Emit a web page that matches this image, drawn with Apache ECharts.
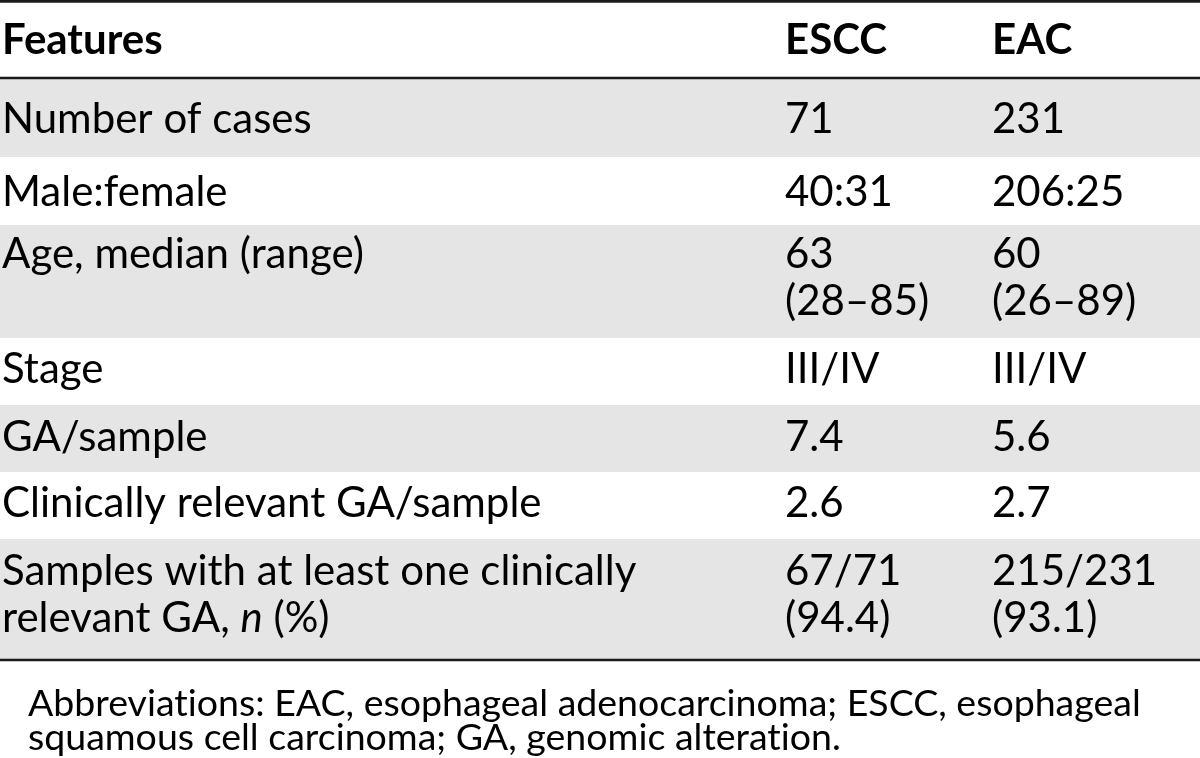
<!DOCTYPE html>
<html>
<head>
<meta charset="utf-8">
<script src="https://cdn.jsdelivr.net/npm/echarts@6/dist/echarts.min.js"></script>
<style>
  html, body { margin: 0; padding: 0; background: #ffffff; }
  #chart { width: 1200px; height: 758px; }
</style>
</head>
<body>
<div id="chart"></div>
<script>
// ---- Table content ----
const headers = ['Features', 'ESCC', 'EAC'];
const features = [
  'Number of cases',
  'Male:female',
  'Age, median (range)',
  'Stage',
  'GA/sample',
  'Clinically relevant GA/sample',
  'Samples with at least one clinically\nrelevant GA, {i|n} (%)'
];
const esccValues = ['71', '40:31', '63\n(28\u201385)', 'III/IV', '7.4', '2.6', '67/71\n(94.4)'];
const eacValues = ['231', '206:25', '60\n(26\u201389)', 'III/IV', '5.6', '2.7', '215/231\n(93.1)'];
// \u200C (zero-width non-joiner) only prevents the font's "ti" ligature
const footnote = 'Abbreviat\u200Cions: EAC, esophageal adenocarcinoma; ESCC, esophageal\nsquamous cell carcinoma; GA, genomic alterat\u200Cion.';

// ---- Layout (page units) ----
const rowEdges = [2, 79, 157, 225, 338, 405, 472, 539, 660];
const firstLineY = [40, 119, 192, 254, 369, 437, 503, 571];
const colX = [2, 785, 992];
const ruleY = [1.4, 78, 660];
const ruleW = [2.8, 2.6, 2.6];
const FONT = 'Lato, "Open Sans", sans-serif';
const BODY_SIZE = 42, BODY_LH = 47;
const NOTE_SIZE = 37.5, NOTE_LH = 34;
const NOTE_X = 28, NOTE_Y = 704;

const rows = [headers].concat(features.map((f, i) => [f, esccValues[i], eacValues[i]]));

function renderRow(params, api) {
  const i = api.value(0);
  const tl = api.coord([0, rowEdges[i]]);
  const br = api.coord([1200, rowEdges[i + 1]]);
  const children = [];
  if (i > 0 && (i - 1) % 2 === 0) {
    children.push({
      type: 'rect',
      shape: { x: tl[0], y: tl[1], width: br[0] - tl[0], height: br[1] - tl[1] },
      style: { fill: '#e5e5e5' }
    });
  }
  const ty = api.coord([0, firstLineY[i]])[1] - BODY_LH / 2;
  rows[i].forEach((txt, c) => {
    const x = api.coord([colX[c], 0])[0];
    children.push({
      type: 'text',
      x: x, y: ty,
      style: {
        text: txt,
        fontFamily: FONT,
        fontSize: BODY_SIZE,
        fontWeight: i === 0 ? 'bold' : 'normal',
        lineHeight: BODY_LH,
        fill: '#000',
        align: 'left',
        verticalAlign: 'top',
        rich: {
          i: { fontStyle: 'italic', fontFamily: FONT, fontSize: BODY_SIZE, lineHeight: BODY_LH, fill: '#000' }
        }
      }
    });
  });
  return { type: 'group', children: children };
}

function renderRule(params, api) {
  const k = params.dataIndex;
  const a = api.coord([0, api.value(0)]);
  const b = api.coord([1200, api.value(0)]);
  return {
    type: 'line',
    shape: { x1: a[0], y1: a[1], x2: b[0], y2: b[1] },
    style: { stroke: '#1a1a1a', lineWidth: ruleW[k] },
    z2: 10
  };
}

function renderNote(params, api) {
  const p = api.coord([NOTE_X, NOTE_Y]);
  return {
    type: 'text',
    x: p[0], y: p[1] - NOTE_LH / 2,
    style: {
      text: footnote,
      fontFamily: FONT,
      fontSize: NOTE_SIZE,
      lineHeight: NOTE_LH,
      fill: '#000',
      align: 'left',
      verticalAlign: 'top'
    }
  };
}

const chart = echarts.init(document.getElementById('chart'), null, { renderer: 'canvas' });
chart.setOption({
  animation: false,
  backgroundColor: '#ffffff',
  grid: { left: 0, right: 0, top: 0, bottom: 0 },
  xAxis: { type: 'value', min: 0, max: 1200, show: false },
  yAxis: { type: 'value', min: 0, max: 758, inverse: true, show: false },
  series: [
    { type: 'custom', name: 'cells', renderItem: renderRow, data: rows.map((r, i) => [i]), z: 1 },
    { type: 'custom', name: 'rules', renderItem: renderRule, data: ruleY.map(y => [y]), z: 2 },
    { type: 'custom', name: 'note', renderItem: renderNote, data: [[0]], z: 3 }
  ]
});
</script>
</body>
</html>
